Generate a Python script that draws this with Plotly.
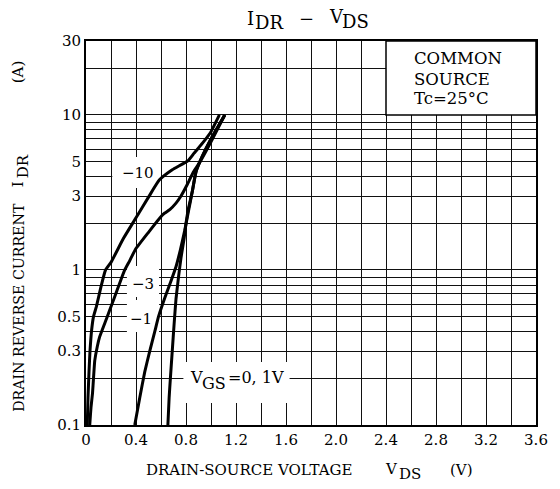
import math
import plotly.graph_objects as go

# ---------------- data ----------------
vgs_m10_x = [0.01, 0.016, 0.024, 0.032, 0.045, 0.06, 0.083, 0.12, 0.156, 0.2, 0.3, 0.4, 0.5, 0.586, 0.69, 0.82, 0.865, 0.94, 1.0, 1.067]
vgs_m10_y = [0.1, 0.15, 0.22, 0.3, 0.41, 0.5, 0.58, 0.78, 1.0, 1.12, 1.6, 2.17, 2.95, 3.8, 4.43, 5.1, 5.67, 6.7, 7.8, 10.0]

vgs_m3_x = [0.03, 0.04, 0.052, 0.06, 0.07, 0.09, 0.109, 0.164, 0.223, 0.276, 0.31, 0.35, 0.396, 0.5, 0.604, 0.63, 0.67, 0.72, 0.76, 0.81, 0.86, 0.92, 1.0, 1.11]
vgs_m3_y = [0.1, 0.13, 0.16, 0.2, 0.26, 0.32, 0.37, 0.485, 0.65, 0.85, 1.0, 1.15, 1.36, 1.75, 2.23, 2.33, 2.45, 2.7, 3.0, 3.56, 4.3, 5.1, 6.7, 10.0]

vgs_m1_x = [0.39, 0.43, 0.47, 0.51, 0.55, 0.58, 0.63, 0.68, 0.72, 0.755, 0.79, 0.82, 0.85, 0.88, 0.93, 1.0, 1.11]
vgs_m1_y = [0.1, 0.15, 0.22, 0.3, 0.4, 0.5, 0.66, 0.85, 1.05, 1.35, 1.8, 2.4, 3.2, 4.3, 5.4, 7.0, 10.0]

vgs_01_x = [0.655, 0.665, 0.675, 0.69, 0.705, 0.72, 0.74, 0.76, 0.785, 0.8, 0.82, 0.85, 0.88, 0.93, 1.0, 1.11]
vgs_01_y = [0.1, 0.15, 0.2, 0.3, 0.45, 0.65, 0.9, 1.2, 1.6, 2.0, 2.5, 3.2, 4.3, 5.4, 7.0, 10.0]

x_grid = [round(0.2 * i, 1) for i in range(19)]
x_labels = ["0", "", "0.4", "", "0.8", "", "1.2", "", "1.6", "", "2.0", "", "2.4", "", "2.8", "", "3.2", "", "3.6"]

y_grid = [0.1, 0.2, 0.3, 0.4, 0.5, 0.6, 0.7, 0.8, 0.9, 1, 2, 3, 4, 5, 6, 7, 8, 9, 10, 20, 30]
y_labels = ["0.1", "", "0.3", "", "0.5", "", "", "", "", "1", "", "3", "", "5", "", "", "", "", "10", "", "30"]

curve_labels = ["\u221210", "\u22123", "\u22121"]
vgs_label_parts = ["V", "GS", "=0, 1V"]
title_parts = ["I", "DR", "\u2212", "V", "DS"]
xtitle_parts = ["DRAIN-SOURCE VOLTAGE", "V", "DS", "(V)"]
ytitle_parts = ["DRAIN REVERSE CURRENT", "I", "DR", "(A)"]
cond_text = ["COMMON", "SOURCE", "Tc=25\u00b0C"]

# ---------------- figure ----------------
FONT = "DejaVu Serif"
W, H = 560, 489
L, R, T, B = 86, 12, 41, 64
PW, PH = W - L - R, H - T - B
XR = (0.0, 3.6)
YR = (-1.0, math.log10(30))


def px(xp):
    return (xp - L) / PW


def py(yp):
    return (H - B - yp) / PH


def dx(xp):
    return XR[0] + px(xp) * (XR[1] - XR[0])


def dy(yp):
    return 10 ** (YR[0] + py(yp) * (YR[1] - YR[0]))


fig = go.Figure()
for xs, ys in [(vgs_m10_x, vgs_m10_y), (vgs_m3_x, vgs_m3_y), (vgs_m1_x, vgs_m1_y), (vgs_01_x, vgs_01_y)]:
    fig.add_trace(go.Scatter(x=xs, y=ys, mode="lines",
                             line=dict(color="black", width=3, shape="spline", smoothing=0.4),
                             showlegend=False, hoverinfo="skip"))

shapes = []
# white label backgrounds (between grid and curves)
for (x0, x1, y0, y1) in [(113, 163, 157, 188), (128, 161, 266, 297), (128, 161, 300, 332), (186, 295, 362, 403)]:
    shapes.append(dict(type="rect", xref="x", yref="y", layer="between",
                       x0=dx(x0), x1=dx(x1), y0=dy(y1), y1=dy(y0),
                       fillcolor="white", line=dict(width=0)))
# condition box
shapes.append(dict(type="rect", xref="x", yref="y", layer="between",
                   x0=2.4, x1=3.6, y0=10, y1=30,
                   fillcolor="white", line=dict(color="black", width=1.5)))


def ann(text, xp, yp, size, xanchor="center", angle=0, yanchor="middle"):
    return dict(text=text, xref="paper", yref="paper", x=px(xp), y=py(yp),
                xanchor=xanchor, yanchor=yanchor, showarrow=False,
                textangle=angle, borderpad=0,
                font=dict(family=FONT, size=size, color="black"))


annotations = []
for txt, (xp, yp) in zip(curve_labels, [(139, 173), (145, 284), (142, 319)]):
    annotations.append(ann(txt, xp, yp, 15))

for txt, (xp, yp) in zip(vgs_label_parts, [(192, 377.5), (204.5, 383), (231, 377.5)]):
    annotations.append(ann(txt, xp, yp, 16, xanchor="left"))

for txt, yp in zip(cond_text, [58, 79, 99]):
    annotations.append(ann(txt, 422, yp, 16.5, xanchor="left"))

for txt, (xp, yp), sz in zip(title_parts,
                             [(250, 19), (258.5, 22.5), (304, 19), (334, 16.5), (347.5, 21.5)],
                             [18, 18, 18, 18, 18]):
    annotations.append(ann(txt, xp, yp, sz, xanchor="left"))

# x-axis title pieces
for txt, (xp, yp) in zip(xtitle_parts, [(147, 470), (392, 468.5), (406, 474), (459, 470)]):
    annotations.append(ann(txt, xp, yp, 15, xanchor="left"))

# y-axis title pieces (rotated)
for txt, (xp, yp), sz in zip(ytitle_parts, [(16.5, 307.5), (16.5, 184), (21, 166.5), (16.5, 72)],
                             [14.2, 15, 15, 15]):
    annotations.append(ann(txt, xp, yp, sz, angle=-90))

fig.update_layout(
    width=W, height=H,
    margin=dict(l=L, r=R, t=T, b=B),
    paper_bgcolor="white", plot_bgcolor="white",
    shapes=shapes, annotations=annotations,
    font=dict(family=FONT, size=15, color="black"),
)
fig.update_xaxes(range=list(XR), tickmode="array", tickvals=x_grid, ticktext=x_labels,
                 showgrid=True, gridcolor="#111", gridwidth=1.3, zeroline=False,
                 showline=True, linecolor="black", linewidth=2, mirror=True,
                 ticks="", tickfont=dict(family=FONT, size=15, color="black"))
fig.update_yaxes(type="log", range=list(YR), tickmode="array", tickvals=y_grid, ticktext=y_labels,
                 showgrid=True, gridcolor="#111", gridwidth=1.3, zeroline=False,
                 showline=True, linecolor="black", linewidth=2, mirror=True,
                 ticks="", tickfont=dict(family=FONT, size=15, color="black"))

fig.write_html("out.html")
